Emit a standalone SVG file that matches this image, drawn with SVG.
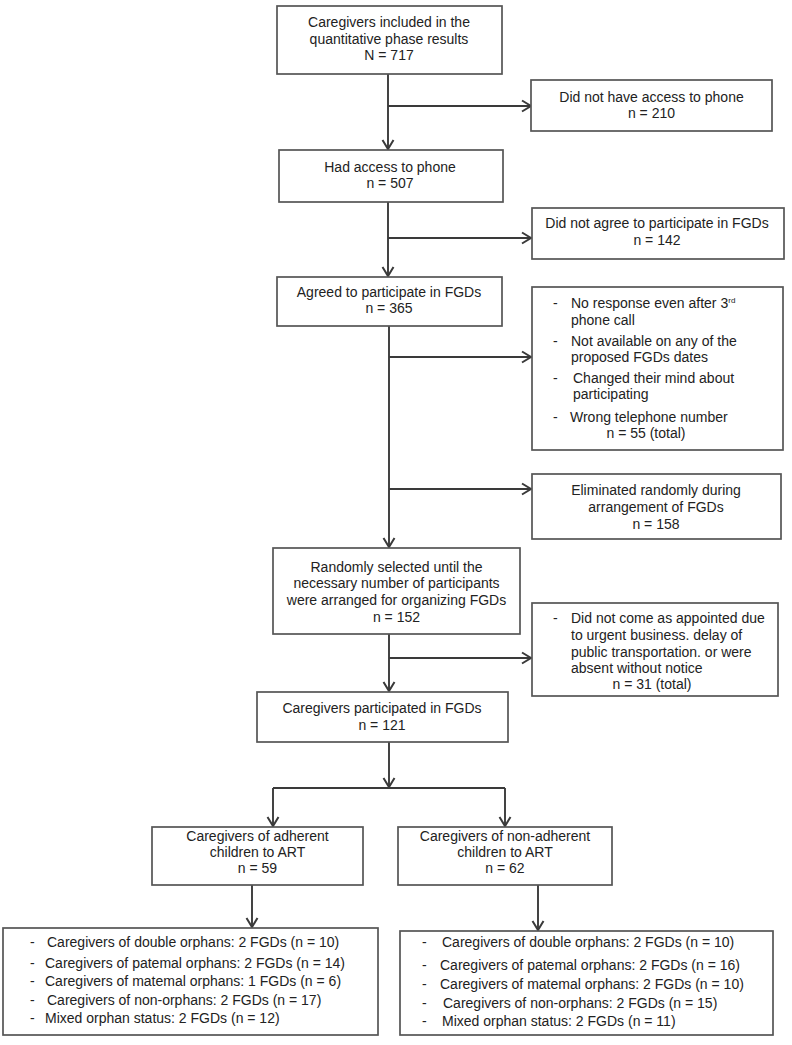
<svg xmlns="http://www.w3.org/2000/svg" width="792" height="1045" viewBox="0 0 792 1045">
<style>
.box{fill:#fff;stroke:#555;stroke-width:1.7}
.t{font-family:"Liberation Sans",Arial,sans-serif;font-size:14px;fill:#222}
.c{text-anchor:middle}
.ln{fill:none;stroke:#3a3a3a;stroke-width:1.9}
.sup{font-size:8px}
</style>
<defs>
<marker id="ah" markerUnits="userSpaceOnUse" markerWidth="14" markerHeight="14" refX="11" refY="7" orient="auto">
<path d="M2,1.5 L11,7 L2,12.5" fill="none" stroke="#3a3a3a" stroke-width="2"/>
</marker>
</defs>
<rect width="792" height="1045" fill="#fff"/>
<g id="connectors">
<path class="ln" d="M388,74 V149" marker-end="url(#ah)"/>
<path class="ln" d="M388,106 H531" marker-end="url(#ah)"/>
<path class="ln" d="M388,202 V276" marker-end="url(#ah)"/>
<path class="ln" d="M388,238 H531" marker-end="url(#ah)"/>
<path class="ln" d="M389,326 V547" marker-end="url(#ah)"/>
<path class="ln" d="M389,357 H531" marker-end="url(#ah)"/>
<path class="ln" d="M389,489 H531" marker-end="url(#ah)"/>
<path class="ln" d="M389,634 V691" marker-end="url(#ah)"/>
<path class="ln" d="M389,658 H531" marker-end="url(#ah)"/>
<path class="ln" d="M389,742 V787" marker-end="url(#ah)"/>
<path class="ln" d="M273,788 H505"/>
<path class="ln" d="M273,788 V826" marker-end="url(#ah)"/>
<path class="ln" d="M505,788 V826" marker-end="url(#ah)"/>
<path class="ln" d="M252,885 V927" marker-end="url(#ah)"/>
<path class="ln" d="M538,885 V930" marker-end="url(#ah)"/>
</g>
<g id="n1">
<rect class="box" x="277" y="6" width="225" height="68"/>
<text class="t c" x="389" y="27">Caregivers included in the</text>
<text class="t c" x="389" y="43.5">quantitative phase results</text>
<text class="t c" x="389" y="60">N = 717</text>
</g>
<g id="n2">
<rect class="box" x="531" y="80" width="241" height="51"/>
<text class="t c" x="651.5" y="102">Did not have access to phone</text>
<text class="t c" x="651.5" y="118">n = 210</text>
</g>
<g id="n3">
<rect class="box" x="279" y="150" width="224" height="52"/>
<text class="t c" x="390" y="172">Had access to phone</text>
<text class="t c" x="390" y="188">n = 507</text>
</g>
<g id="n4">
<rect class="box" x="532" y="208" width="252" height="51"/>
<text class="t c" x="657" y="228">Did not agree to participate in FGDs</text>
<text class="t c" x="657" y="245">n = 142</text>
</g>
<g id="n5">
<rect class="box" x="277" y="277" width="225" height="49"/>
<text class="t c" x="389" y="297">Agreed to participate in FGDs</text>
<text class="t c" x="389" y="313">n = 365</text>
</g>
<g id="n6">
<rect class="box" x="532" y="287" width="251" height="163"/>
<text class="t" x="553" y="308">-</text>
<text class="t" x="571" y="308">No response even after 3<tspan class="sup" dy="-5">rd</tspan></text>
<text class="t" x="571" y="325">phone call</text>
<text class="t" x="553" y="346">-</text>
<text class="t" x="571" y="346">Not available on any of the</text>
<text class="t" x="571" y="362">proposed FGDs dates</text>
<text class="t" x="553" y="383">-</text>
<text class="t" x="573" y="383">Changed their mind about</text>
<text class="t" x="573" y="399">participating</text>
<text class="t" x="553" y="422">-</text>
<text class="t" x="570" y="422">Wrong telephone number</text>
<text class="t c" x="646" y="438">n = 55 (total)</text>
</g>
<g id="n7">
<rect class="box" x="532" y="474" width="249" height="65"/>
<text class="t c" x="656" y="495">Eliminated randomly during</text>
<text class="t c" x="656" y="512">arrangement of FGDs</text>
<text class="t c" x="656" y="529">n = 158</text>
</g>
<g id="n8">
<rect class="box" x="273" y="548" width="247" height="86"/>
<text class="t c" x="396.5" y="572">Randomly selected until the</text>
<text class="t c" x="396.5" y="588">necessary number of participants</text>
<text class="t c" x="396.5" y="605">were arranged for organizing FGDs</text>
<text class="t c" x="396.5" y="622">n = 152</text>
</g>
<g id="n9">
<rect class="box" x="532" y="603" width="246" height="93"/>
<text class="t" x="553" y="623">-</text>
<text class="t" x="571" y="623">Did not come as appointed due</text>
<text class="t" x="571" y="640">to urgent business. delay of</text>
<text class="t" x="571" y="657">public transportation. or were</text>
<text class="t" x="571" y="673">absent without notice</text>
<text class="t c" x="652" y="689">n = 31 (total)</text>
</g>
<g id="n10">
<rect class="box" x="257" y="692" width="251" height="50"/>
<text class="t c" x="382" y="713">Caregivers participated in FGDs</text>
<text class="t c" x="382" y="730">n = 121</text>
</g>
<g id="n11">
<rect class="box" x="152" y="827" width="211" height="58"/>
<text class="t c" x="257.5" y="841">Caregivers of adherent</text>
<text class="t c" x="257.5" y="857">children to ART</text>
<text class="t c" x="257.5" y="873">n = 59</text>
</g>
<g id="n12">
<rect class="box" x="398" y="827" width="214" height="58"/>
<text class="t c" x="505" y="841">Caregivers of non-adherent</text>
<text class="t c" x="505" y="857">children to ART</text>
<text class="t c" x="505" y="873">n = 62</text>
</g>
<g id="n13">
<rect class="box" x="3" y="928" width="375" height="107"/>
<text class="t" x="30" y="947">-</text><text class="t" x="47" y="947">Caregivers of double orphans: 2 FGDs (n = 10)</text>
<text class="t" x="30" y="968">-</text><text class="t" x="45" y="968">Caregivers of patemal orphans: 2 FGDs (n = 14)</text>
<text class="t" x="30" y="986">-</text><text class="t" x="45" y="986">Caregivers of matemal orphans: 1 FGDs (n = 6)</text>
<text class="t" x="30" y="1005">-</text><text class="t" x="47" y="1005">Caregivers of non-orphans: 2 FGDs (n = 17)</text>
<text class="t" x="30" y="1023">-</text><text class="t" x="45" y="1023">Mixed orphan status: 2 FGDs (n = 12)</text>
</g>
<g id="n14">
<rect class="box" x="400" y="931" width="373" height="104"/>
<text class="t" x="422" y="947">-</text><text class="t" x="442" y="947">Caregivers of double orphans: 2 FGDs (n = 10)</text>
<text class="t" x="422" y="970">-</text><text class="t" x="440" y="970">Caregivers of patemal orphans: 2 FGDs (n = 16)</text>
<text class="t" x="422" y="989">-</text><text class="t" x="440" y="989">Caregivers of matemal orphans: 2 FGDs (n = 10)</text>
<text class="t" x="422" y="1008">-</text><text class="t" x="443" y="1008">Caregivers of non-orphans: 2 FGDs (n = 15)</text>
<text class="t" x="422" y="1026">-</text><text class="t" x="442" y="1026">Mixed orphan status: 2 FGDs (n = 11)</text>
</g>
</svg>
